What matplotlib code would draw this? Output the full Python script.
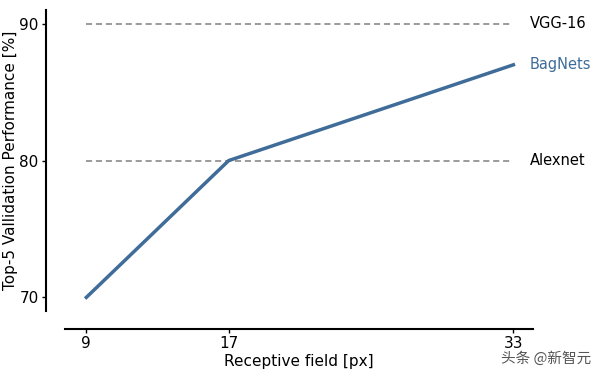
import matplotlib
matplotlib.use('Agg')
import matplotlib.pyplot as plt

# 数据
receptive_field = [9, 17, 33]
bagnets_top5 = [70, 80, 87]
baselines = ['VGG-16', 'Alexnet']
baseline_values = [90, 80]
x_ticks = [9, 17, 33]
y_ticks = [70, 80, 90]

line_color = '#3f6c98'

plt.rcParams['font.family'] = ['DejaVu Sans', 'Noto Sans CJK SC']

fig = plt.figure(figsize=(6.0, 3.73), dpi=100)
ax = fig.add_axes([0.1083, 0.166, 0.78, 0.807])

# 基线（虚线）
for name, val in zip(baselines, baseline_values):
    ax.plot([receptive_field[0], receptive_field[-1]], [val, val],
            linestyle='--', color='#808080', linewidth=1.1, dashes=(4, 2.5))
    ax.text(33.9, val, name, va='center', ha='left', fontsize=10.5, color='black')

# BagNets 曲线
ax.plot(receptive_field, bagnets_top5, color=line_color, linewidth=2.5)
ax.text(33.9, bagnets_top5[-1], 'BagNets', va='center', ha='left',
        fontsize=10.5, color=line_color)

ax.set_xlim(7.8, 34.1)
ax.set_ylim(69, 91)
ax.set_xticks(x_ticks)
ax.set_yticks(y_ticks)
ax.tick_params(labelsize=11, length=3, width=1, pad=2)
ax.set_xlabel('Receptive field [px]', fontsize=11, labelpad=2)
ax.set_ylabel('Top-5 Vallidation Performance [%]', fontsize=11, labelpad=1)

for s in ['top', 'right']:
    ax.spines[s].set_visible(False)
ax.spines['left'].set_position(('outward', 14))
ax.spines['bottom'].set_position(('outward', 13))
ax.spines['left'].set_linewidth(1.5)
ax.spines['bottom'].set_linewidth(1.5)

# 水印
fig.text(0.985, 0.038, '头条 @新智元', ha='right', va='center', fontsize=10.5,
         color='#555555', family=['Noto Sans CJK SC', 'DejaVu Sans'])

fig.savefig('out.png', dpi=100)
